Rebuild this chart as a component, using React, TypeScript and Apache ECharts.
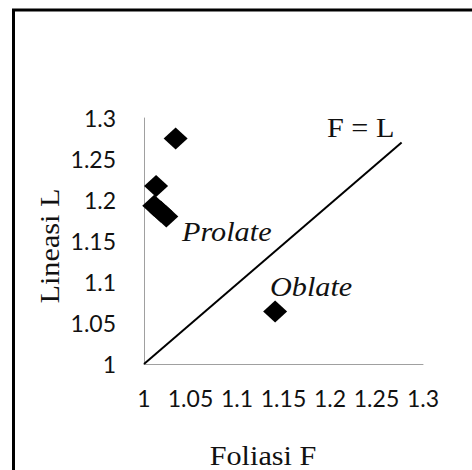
import React, { useEffect, useRef } from "react";
import * as echarts from "echarts";

const xTicks = [1, 1.05, 1.1, 1.15, 1.2, 1.25, 1.3];
const yTicks = [1, 1.05, 1.1, 1.15, 1.2, 1.25, 1.3];
const sampleF = [1.034, 1.013, 1.011, 1.018, 1.024, 1.141];
const sampleL = [1.275, 1.217, 1.193, 1.186, 1.18, 1.064];
const lineF = [1, 1.277];
const lineL = [1, 1.27];
const xTitle = "Foliasi F";
const yTitle = "Lineasi L";
const lineLabel = "F = L";
const prolateLabel = "Prolate";
const oblateLabel = "Oblate";

const fmt = (v: number) => String(+v.toFixed(2));

export default function App() {
  const ref = useRef<HTMLDivElement>(null);
  useEffect(() => {
    document.body.style.margin = "0";
    const chart = echarts.init(ref.current!, null, { renderer: "svg" });
    const serif = "'Liberation Serif', 'Times New Roman', serif";
    const sx = 1.12;
    chart.setOption({
      animation: false,
      backgroundColor: "#ffffff",
      grid: { left: 144, top: 118, right: 49, bottom: 106 },
      xAxis: {
        type: "value",
        min: xTicks[0],
        max: xTicks[xTicks.length - 1],
        interval: 0.05,
        axisLine: { show: true, lineStyle: { color: "#a0a0a0", width: 1 } },
        axisTick: { show: false },
        splitLine: { show: false },
        axisLabel: {
          margin: 22,
          fontFamily: "Lato",
          fontSize: 23,
          color: "#111",
          showMinLabel: true,
          showMaxLabel: true,
          formatter: (v: number) => fmt(v),
        },
      },
      yAxis: {
        type: "value",
        min: yTicks[0],
        max: yTicks[yTicks.length - 1],
        interval: 0.05,
        axisLine: { show: true, lineStyle: { color: "#a0a0a0", width: 1 } },
        axisTick: { show: false },
        splitLine: { show: false },
        axisLabel: {
          margin: 28,
          fontFamily: "Lato",
          fontSize: 23,
          color: "#111",
          showMinLabel: true,
          showMaxLabel: true,
          formatter: (v: number) => fmt(v),
        },
      },
      series: [
        {
          type: "line",
          data: lineF.map((f, i) => [f, lineL[i]]),
          symbol: "none",
          lineStyle: { color: "#000", width: 2 },
          z: 2,
        },
        {
          type: "scatter",
          data: sampleF.map((f, i) => [f, sampleL[i]]),
          symbol: "diamond",
          symbolSize: [24, 22],
          itemStyle: { color: "#000", opacity: 1 },
          z: 3,
        },
      ],
      graphic: [
        {
          type: "rect",
          shape: { x: 13.5, y: 10, width: 600, height: 600 },
          style: { fill: "none", stroke: "#000", lineWidth: 3 },
          silent: true,
        },
        {
          type: "text",
          x: 263,
          y: 456,
          scaleX: sx,
          style: {
            x: 0,
            y: 0,
            text: xTitle,
            font: `27px ${serif}`,
            fill: "#111",
            align: "center",
            verticalAlign: "middle",
          },
        },
        {
          type: "text",
          x: 49.5,
          y: 246,
          rotation: Math.PI / 2,
          scaleX: sx,
          style: {
            x: 0,
            y: 0,
            text: yTitle,
            font: `27px ${serif}`,
            fill: "#111",
            align: "center",
            verticalAlign: "middle",
          },
        },
        {
          type: "text",
          x: 327,
          y: 128,
          scaleX: sx,
          style: {
            x: 0,
            y: 0,
            text: lineLabel,
            font: `27px ${serif}`,
            fill: "#111",
            align: "left",
            verticalAlign: "middle",
          },
        },
        {
          type: "text",
          x: 182,
          y: 231.5,
          scaleX: sx,
          style: {
            x: 0,
            y: 0,
            text: prolateLabel,
            font: `italic 27px ${serif}`,
            fill: "#111",
            align: "left",
            verticalAlign: "middle",
          },
        },
        {
          type: "text",
          x: 270,
          y: 286.5,
          scaleX: sx,
          style: {
            x: 0,
            y: 0,
            text: oblateLabel,
            font: `italic 27px ${serif}`,
            fill: "#111",
            align: "left",
            verticalAlign: "middle",
          },
        },
      ],
    });
    return () => chart.dispose();
  }, []);
  return (
    <div
      ref={ref}
      style={{ position: "absolute", left: 0, top: 0, width: 472, height: 470 }}
    />
  );
}
